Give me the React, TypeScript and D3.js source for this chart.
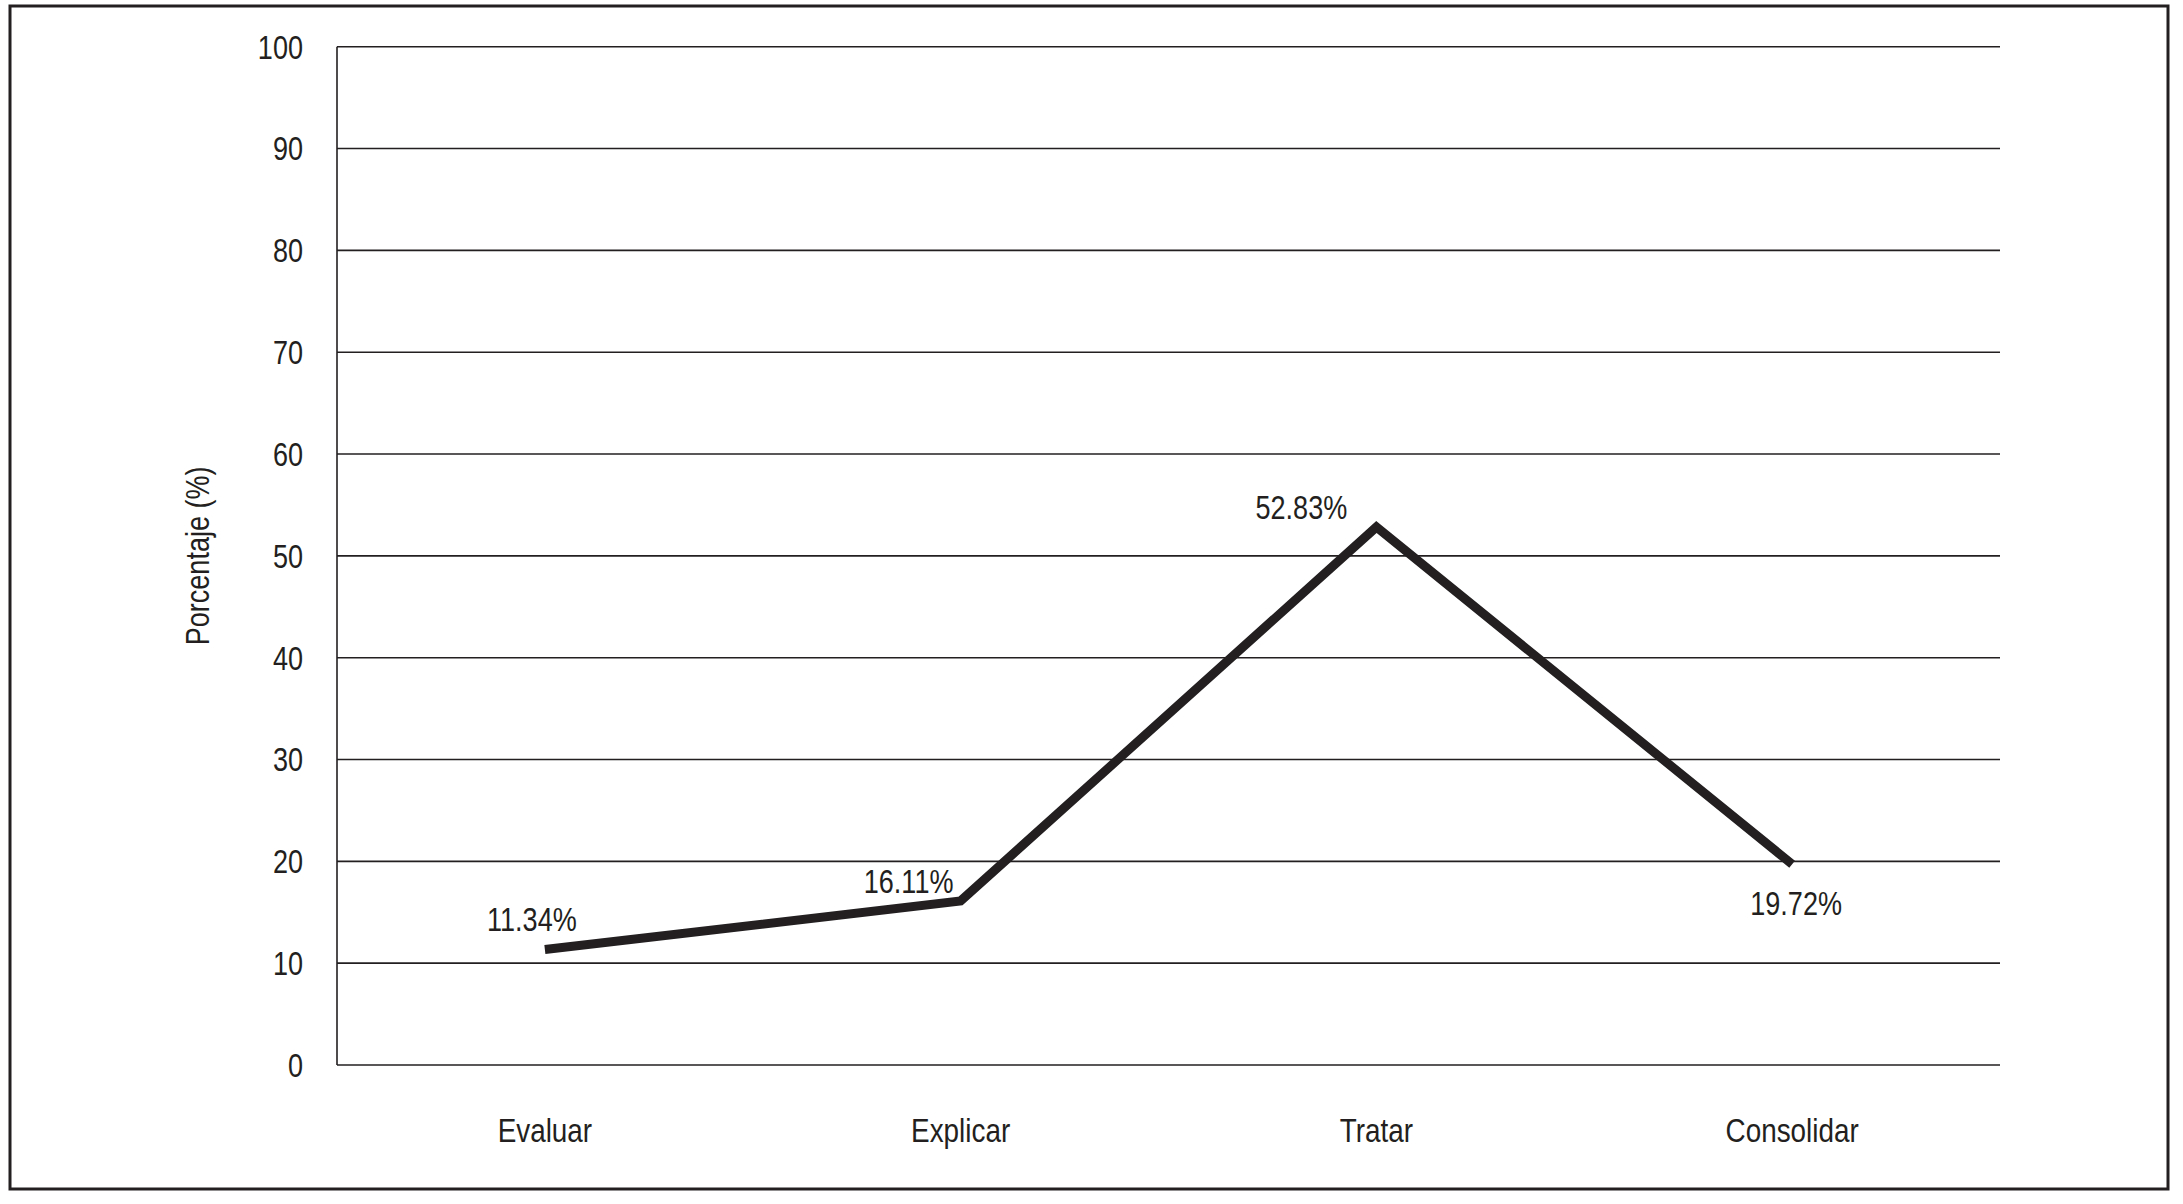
import React from 'react';
import {scaleBand, scaleLinear, line} from 'd3';

// categories and values
const categories = ['Evaluar', 'Explicar', 'Tratar', 'Consolidar'];
const values = [11.34, 16.11, 52.83, 19.72];
const valueLabels = ['11.34%', '16.11%', '52.83%', '19.72%'];
const yTicks = [0, 10, 20, 30, 40, 50, 60, 70, 80, 90, 100];

const W = 2183;
const H = 1204;
const FONT = '"Liberation Sans", Arial, sans-serif';
const INK = '#231f20';
const SQUEEZE = 0.82; // condensed look

function Txt(props: {x: number; y: number; rot?: number; anchor?: string; size?: number; children: any}) {
  const {x, y, rot = 0, anchor = 'middle', size = 33} = props;
  return (
    <text
      transform={`translate(${x},${y}) rotate(${rot}) scale(${SQUEEZE},1)`}
      dy="0.36em"
      textAnchor={anchor}
      fontFamily={FONT}
      fontSize={size}
      fill={INK}
    >
      {props.children}
    </text>
  );
}

export default function App() {
  const left = 337;
  const right = 2000;
  const top = 46.7;
  const bottom = 1065;

  const x = scaleBand().domain(categories).range([left, right]);
  const y = scaleLinear().domain([0, 100]).range([bottom, top]);
  const cx = (c: string) => (x(c) as number) + x.bandwidth() / 2;

  const pts = categories.map((c, i) => [cx(c), y(values[i])] as [number, number]);
  const path = line()(pts) || '';

  // label offsets: first three above-left, last one below
  const offs = [
    [-13, -30],
    [-52, -20],
    [-75, -20],
    [4, 39]
  ];

  return (
    <div style={{position: 'absolute', left: 0, top: 0}}>
      <svg width={W} height={H} style={{display: 'block', background: '#fff'}}>
        <rect x={10} y={6} width={2158} height={1183} fill="none" stroke={INK} strokeWidth={3} />
        {yTicks.map(t => (
          <g key={t}>
            <line x1={left} x2={right} y1={y(t)} y2={y(t)} stroke={INK} strokeWidth={1.6} />
            <Txt x={303} y={y(t)} anchor="end">
              {t}
            </Txt>
          </g>
        ))}
        <line x1={left} x2={left} y1={top} y2={bottom} stroke={INK} strokeWidth={1.6} />
        <Txt x={197} y={(top + bottom) / 2} rot={-90}>
          Porcentaje (%)
        </Txt>
        {categories.map(c => (
          <Txt key={c} x={cx(c)} y={1130} size={34}>
            {c}
          </Txt>
        ))}
        <path d={path} fill="none" stroke={INK} strokeWidth={9} strokeLinejoin="miter" />
        {pts.map((p, i) => (
          <Txt key={i} x={p[0] + offs[i][0]} y={p[1] + offs[i][1]}>
            {valueLabels[i]}
          </Txt>
        ))}
      </svg>
    </div>
  );
}
